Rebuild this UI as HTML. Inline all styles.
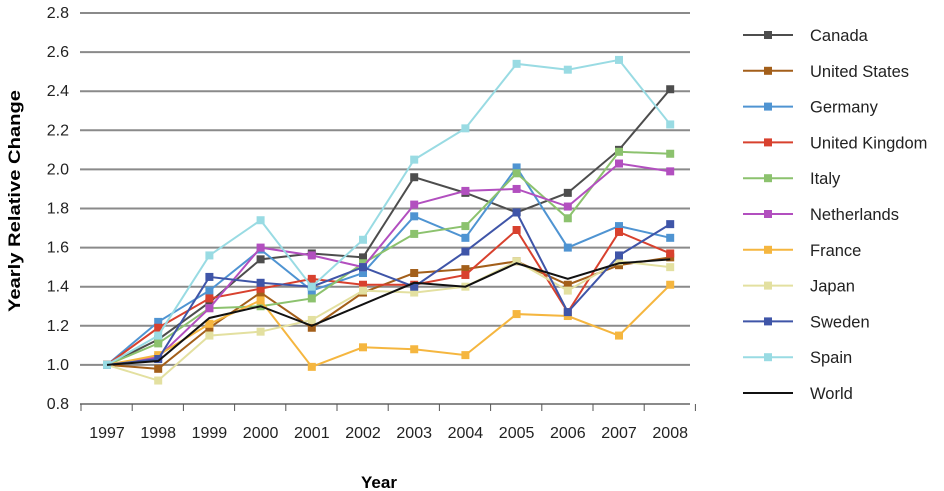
<!DOCTYPE html><html><head><style>body{margin:0;background:#fff}svg{display:block;font-family:"Liberation Sans",sans-serif}</style></head><body>
<svg id="s" width="944" height="491" xmlns="http://www.w3.org/2000/svg"></svg>
<script>
const s=document.getElementById('s');let h='';
const Y=v=>13+(2.8-v)*195.5, X=i=>107+i*51.2;
for(let k=0;k<=10;k++){const v=0.8+k*0.2,y=Y(v);h+=`<line x1="80" x2="690" y1="${y}" y2="${y}" stroke="#8a8a8a" stroke-width="2"/><text x="69" y="${y+5}" font-size="16" text-anchor="end" fill="#222">${v.toFixed(1)}</text>`;}
for(let i=0;i<=12;i++){const x=81+i*51.2;h+=`<line x1="${x}" x2="${x}" y1="404" y2="411" stroke="#555"/>`;}
for(let i=0;i<12;i++)h+=`<text x="${X(i)}" y="438" font-size="16" text-anchor="middle" fill="#222">${1997+i}</text>`;
h+=`<text x="379" y="488" font-size="17" font-weight="bold" text-anchor="middle">Year</text>`;
h+=`<text transform="translate(20,201) rotate(-90)" font-size="17" font-weight="bold" text-anchor="middle" textLength="222" lengthAdjust="spacingAndGlyphs">Yearly Relative Change</text>`;
const S=[
["Canada","#4d4d4d",[1,1.13,1.32,1.54,1.57,1.55,1.96,1.88,1.78,1.88,2.10,2.41]],
["United States","#a35f1a",[1,0.98,1.19,1.37,1.19,1.37,1.47,1.49,1.53,1.41,1.51,1.55]],
["Germany","#4f94d2",[1,1.22,1.38,1.59,1.38,1.47,1.76,1.65,2.01,1.60,1.71,1.65]],
["United Kingdom","#d8412e",[1,1.19,1.34,1.39,1.44,1.41,1.41,1.46,1.69,1.27,1.68,1.57]],
["Italy","#8cc26e",[1,1.11,1.29,1.30,1.34,1.52,1.67,1.71,1.98,1.75,2.09,2.08]],
["Netherlands","#b24fbf",[1,1.04,1.29,1.60,1.56,1.50,1.82,1.89,1.90,1.81,2.03,1.99]],
["France","#f5b63f",[1,1.05,1.21,1.33,0.99,1.09,1.08,1.05,1.26,1.25,1.15,1.41]],
["Japan","#e3e0a0",[1,0.92,1.15,1.17,1.23,1.38,1.37,1.40,1.53,1.38,1.53,1.50]],
["Sweden","#3f55a8",[1,1.03,1.45,1.42,1.40,1.50,1.40,1.58,1.78,1.27,1.56,1.72]],
["Spain","#99dbe3",[1,1.15,1.56,1.74,1.40,1.64,2.05,2.21,2.54,2.51,2.56,2.23]],
["World","#111",[1,1.02,1.24,1.30,1.20,1.31,1.42,1.40,1.52,1.44,1.52,1.54]]];
S.forEach((d,j)=>{const [n,c,v]=d;h+=`<polyline fill="none" stroke="${c}" stroke-width="2" points="${v.map((a,i)=>X(i)+','+Y(a)).join(' ')}"/>`;
if(n!="World")v.forEach((a,i)=>{h+=`<rect x="${X(i)-4}" y="${Y(a)-4}" width="8" height="8" fill="${c}"/>`;});
const ly=35+j*35.8;h+=`<line x1="743" x2="793" y1="${ly}" y2="${ly}" stroke="${c}" stroke-width="2"/>`;
if(n!="World")h+=`<rect x="764" y="${ly-4}" width="8" height="8" fill="${c}"/>`;
h+=`<text x="810" y="${ly+6}" font-size="16.5" fill="#222">${n}</text>`;});
s.innerHTML=h;
</script></body></html>
